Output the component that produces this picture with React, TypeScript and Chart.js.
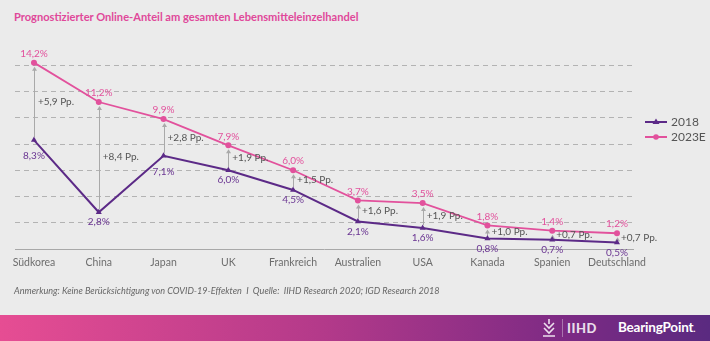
import React, { useEffect, useRef } from "react";
import { Chart, registerables } from "chart.js";
Chart.register(...registerables);

const categories = ["Südkorea", "China", "Japan", "UK", "Frankreich", "Australien", "USA", "Kanada", "Spanien", "Deutschland"];
const values2018 = [8.3, 2.8, 7.1, 6.0, 4.5, 2.1, 1.6, 0.8, 0.7, 0.5];
const values2023E = [14.2, 11.2, 9.9, 7.9, 6.0, 3.7, 3.5, 1.8, 1.4, 1.2];
const deltaLabels = ["+5,9 Pp.", "+8,4 Pp.", "+2,8 Pp.", "+1,9 Pp.", "+1,5 Pp.", "+1,6 Pp.", "+1,9 Pp.", "+1,0 Pp.", "+0,7 Pp.", "+0,7 Pp."];
const seriesNames = ["2018", "2023E"];

const TITLE = "Prognostizierter Online-Anteil am gesamten Lebensmitteleinzelhandel";
const NOTE = "Anmerkung: Keine Berücksichtigung von COVID-19-Effekten  I  Quelle:  IIHD Research 2020; IGD Research 2018";

const PURPLE = "#5c2a87";
const PINK = "#e2519c";
const FONT = "Lato, 'Open Sans', sans-serif";

const fmt = (v: number) => v.toFixed(1).replace(".", ",") + "%";

const isLocalMax = (arr: number[], i: number) => {
  const prev = i > 0 ? arr[i - 1] : -Infinity;
  const next = i < arr.length - 1 ? arr[i + 1] : -Infinity;
  return arr[i] > prev && arr[i] > next;
};

const annotationPlugin = {
  id: "annot",
  beforeDatasetsDraw(chart: any) {
    const ctx = chart.ctx;
    const m0 = chart.getDatasetMeta(0).data;
    const m1 = chart.getDatasetMeta(1).data;
    ctx.save();
    ctx.strokeStyle = "#a9a9a9";
    ctx.fillStyle = "#a9a9a9";
    ctx.lineWidth = 1;
    for (let i = 0; i < m0.length; i++) {
      const x = Math.round(m0[i].x) + 0.5;
      const yb = m0[i].y - 3;
      const yt = m1[i].y + 4;
      ctx.beginPath();
      ctx.moveTo(x, yb);
      ctx.lineTo(x, yt + 3);
      ctx.stroke();
      ctx.beginPath();
      ctx.moveTo(x, yt);
      ctx.lineTo(x - 2.5, yt + 4);
      ctx.lineTo(x + 2.5, yt + 4);
      ctx.closePath();
      ctx.fill();
    }
    ctx.restore();
  },
  afterDatasetsDraw(chart: any) {
    const ctx = chart.ctx;
    const m0 = chart.getDatasetMeta(0).data;
    const m1 = chart.getDatasetMeta(1).data;
    ctx.save();
    ctx.font = `10px ${FONT}`;
    ctx.textBaseline = "middle";
    for (let i = 0; i < m0.length; i++) {
      ctx.textAlign = "center";
      ctx.fillStyle = PINK;
      ctx.fillText(fmt(values2023E[i]), m1[i].x, m1[i].y - 9);
      ctx.fillStyle = "#6a3592";
      const off = isLocalMax(values2018, i) ? 16 : 10;
      ctx.fillText(fmt(values2018[i]), m0[i].x, m0[i].y + off);
      ctx.textAlign = "left";
      ctx.fillStyle = "#555555";
      ctx.fillText(deltaLabels[i], m0[i].x + 4, (m0[i].y + m1[i].y) / 2);
    }
    ctx.restore();
  },
  afterDraw(chart: any) {
    const ctx = chart.ctx;
    const items = [
      { name: seriesNames[0], color: PURPLE, style: "triangle" },
      { name: seriesNames[1], color: PINK, style: "circle" },
    ];
    ctx.save();
    items.forEach((it, k) => {
      const y = 122 + k * 15;
      ctx.strokeStyle = it.color;
      ctx.fillStyle = it.color;
      ctx.lineWidth = 2;
      ctx.beginPath();
      ctx.moveTo(645, y);
      ctx.lineTo(667, y);
      ctx.stroke();
      ctx.beginPath();
      if (it.style === "triangle") {
        ctx.moveTo(656, y - 3.5);
        ctx.lineTo(659.5, y + 2);
        ctx.lineTo(652.5, y + 2);
      } else {
        ctx.arc(656, y, 2.8, 0, Math.PI * 2);
      }
      ctx.closePath();
      ctx.fill();
      ctx.fillStyle = "#555555";
      ctx.font = `12px ${FONT}`;
      ctx.textAlign = "left";
      ctx.textBaseline = "middle";
      ctx.fillText(it.name, 671, y);
    });
    ctx.restore();
  },
};

function ChartBox() {
  const ref = useRef<HTMLCanvasElement | null>(null);
  useEffect(() => {
    if (!ref.current) return;
    const chart = new Chart(ref.current, {
      type: "line",
      data: {
        datasets: [
          {
            label: seriesNames[0],
            data: values2018.map((v, i) => ({ x: i, y: v })),
            borderColor: PURPLE,
            backgroundColor: PURPLE,
            borderWidth: 2,
            pointStyle: "triangle",
            pointRadius: 3.5,
            pointBorderWidth: 0,
            pointBackgroundColor: PURPLE,
            tension: 0,
          },
          {
            label: seriesNames[1],
            data: values2023E.map((v, i) => ({ x: i, y: v })),
            borderColor: PINK,
            backgroundColor: PINK,
            borderWidth: 1.8,
            pointStyle: "circle",
            pointRadius: 3,
            pointBorderWidth: 0,
            pointBackgroundColor: PINK,
            tension: 0,
          },
        ],
      },
      options: {
        animation: false,
        responsive: false,
        maintainAspectRatio: false,
        layout: { padding: { left: 15, right: 77, top: 39, bottom: 72 } },
        plugins: { legend: { display: false }, tooltip: { enabled: false }, title: { display: false } },
        scales: {
          x: {
            type: "linear",
            min: -0.293,
            max: 9.247,
            grid: { display: false, drawTicks: false },
            border: { display: true, color: "#a8a8a8", width: 1 },
            afterFit: (s: any) => {
              s.height = 20;
            },
            ticks: {
              stepSize: 1,
              includeBounds: false,
              autoSkip: false,
              maxRotation: 0,
              padding: 7,
              color: "#6d6d6d",
              font: { family: FONT, size: 10.5 },
              callback: (v: any) => categories[v as number] ?? "",
            },
          },
          y: {
            type: "linear",
            min: 0,
            max: 16,
            ticks: { display: false, stepSize: 2 },
            grid: {
              drawTicks: false,
              lineWidth: 1,
              color: (c: any) => (c.tick && c.tick.value > 0 && c.tick.value <= 14 ? "#b3b3b3" : "rgba(0,0,0,0)"),
            },
            border: { display: false, dash: [5, 4] },
          },
        },
      },
      plugins: [annotationPlugin],
    } as any);
    return () => chart.destroy();
  }, []);
  return <canvas ref={ref} width={710} height={341} style={{ position: "absolute", left: 0, top: 0, width: 710, height: 341 }} />;
}

export default function App() {
  return (
    <div style={{ position: "fixed", left: 0, top: 0, width: 710, height: 341, background: "#ebebeb", overflow: "hidden", fontFamily: FONT }}>
      <div style={{ position: "absolute", left: 14, top: 10, fontSize: 11.1, fontWeight: 700, color: "#e0489a", whiteSpace: "nowrap" }}>{TITLE}</div>
      <ChartBox />
      <div style={{ position: "absolute", left: 14, top: 285, fontSize: 9.1, fontStyle: "italic", color: "#666", whiteSpace: "pre" }}>{NOTE}</div>
      <div style={{ position: "absolute", left: 0, top: 315, width: 710, height: 26, background: "linear-gradient(90deg, #e64d93 0%, #b43a8a 45%, #7c2a84 80%, #5a2a80 100%)" }}>
        <svg width="16" height="20" viewBox="0 0 16 20" style={{ position: "absolute", left: 541, top: 3 }}>
          <path d="M8 1 L8 6 M3 5 L8 10 L13 5 M3 10 L8 15 L13 10 M2 18 L14 18" stroke="#fff" strokeWidth="1.6" fill="none" opacity="0.85" />
        </svg>
        <div style={{ position: "absolute", left: 562, top: 4, width: 1, height: 18, background: "rgba(255,255,255,0.35)" }} />
        <div style={{ position: "absolute", left: 567, top: 5, fontSize: 13, fontWeight: 900, color: "rgba(255,255,255,0.85)", letterSpacing: 0.5 }}>IIHD</div>
        <div style={{ position: "absolute", left: 618, top: 4, fontSize: 13.5, fontWeight: 700, color: "#fff", letterSpacing: -0.2 }}>BearingPoint<span style={{ fontSize: 9 }}>.</span></div>
      </div>
    </div>
  );
}
